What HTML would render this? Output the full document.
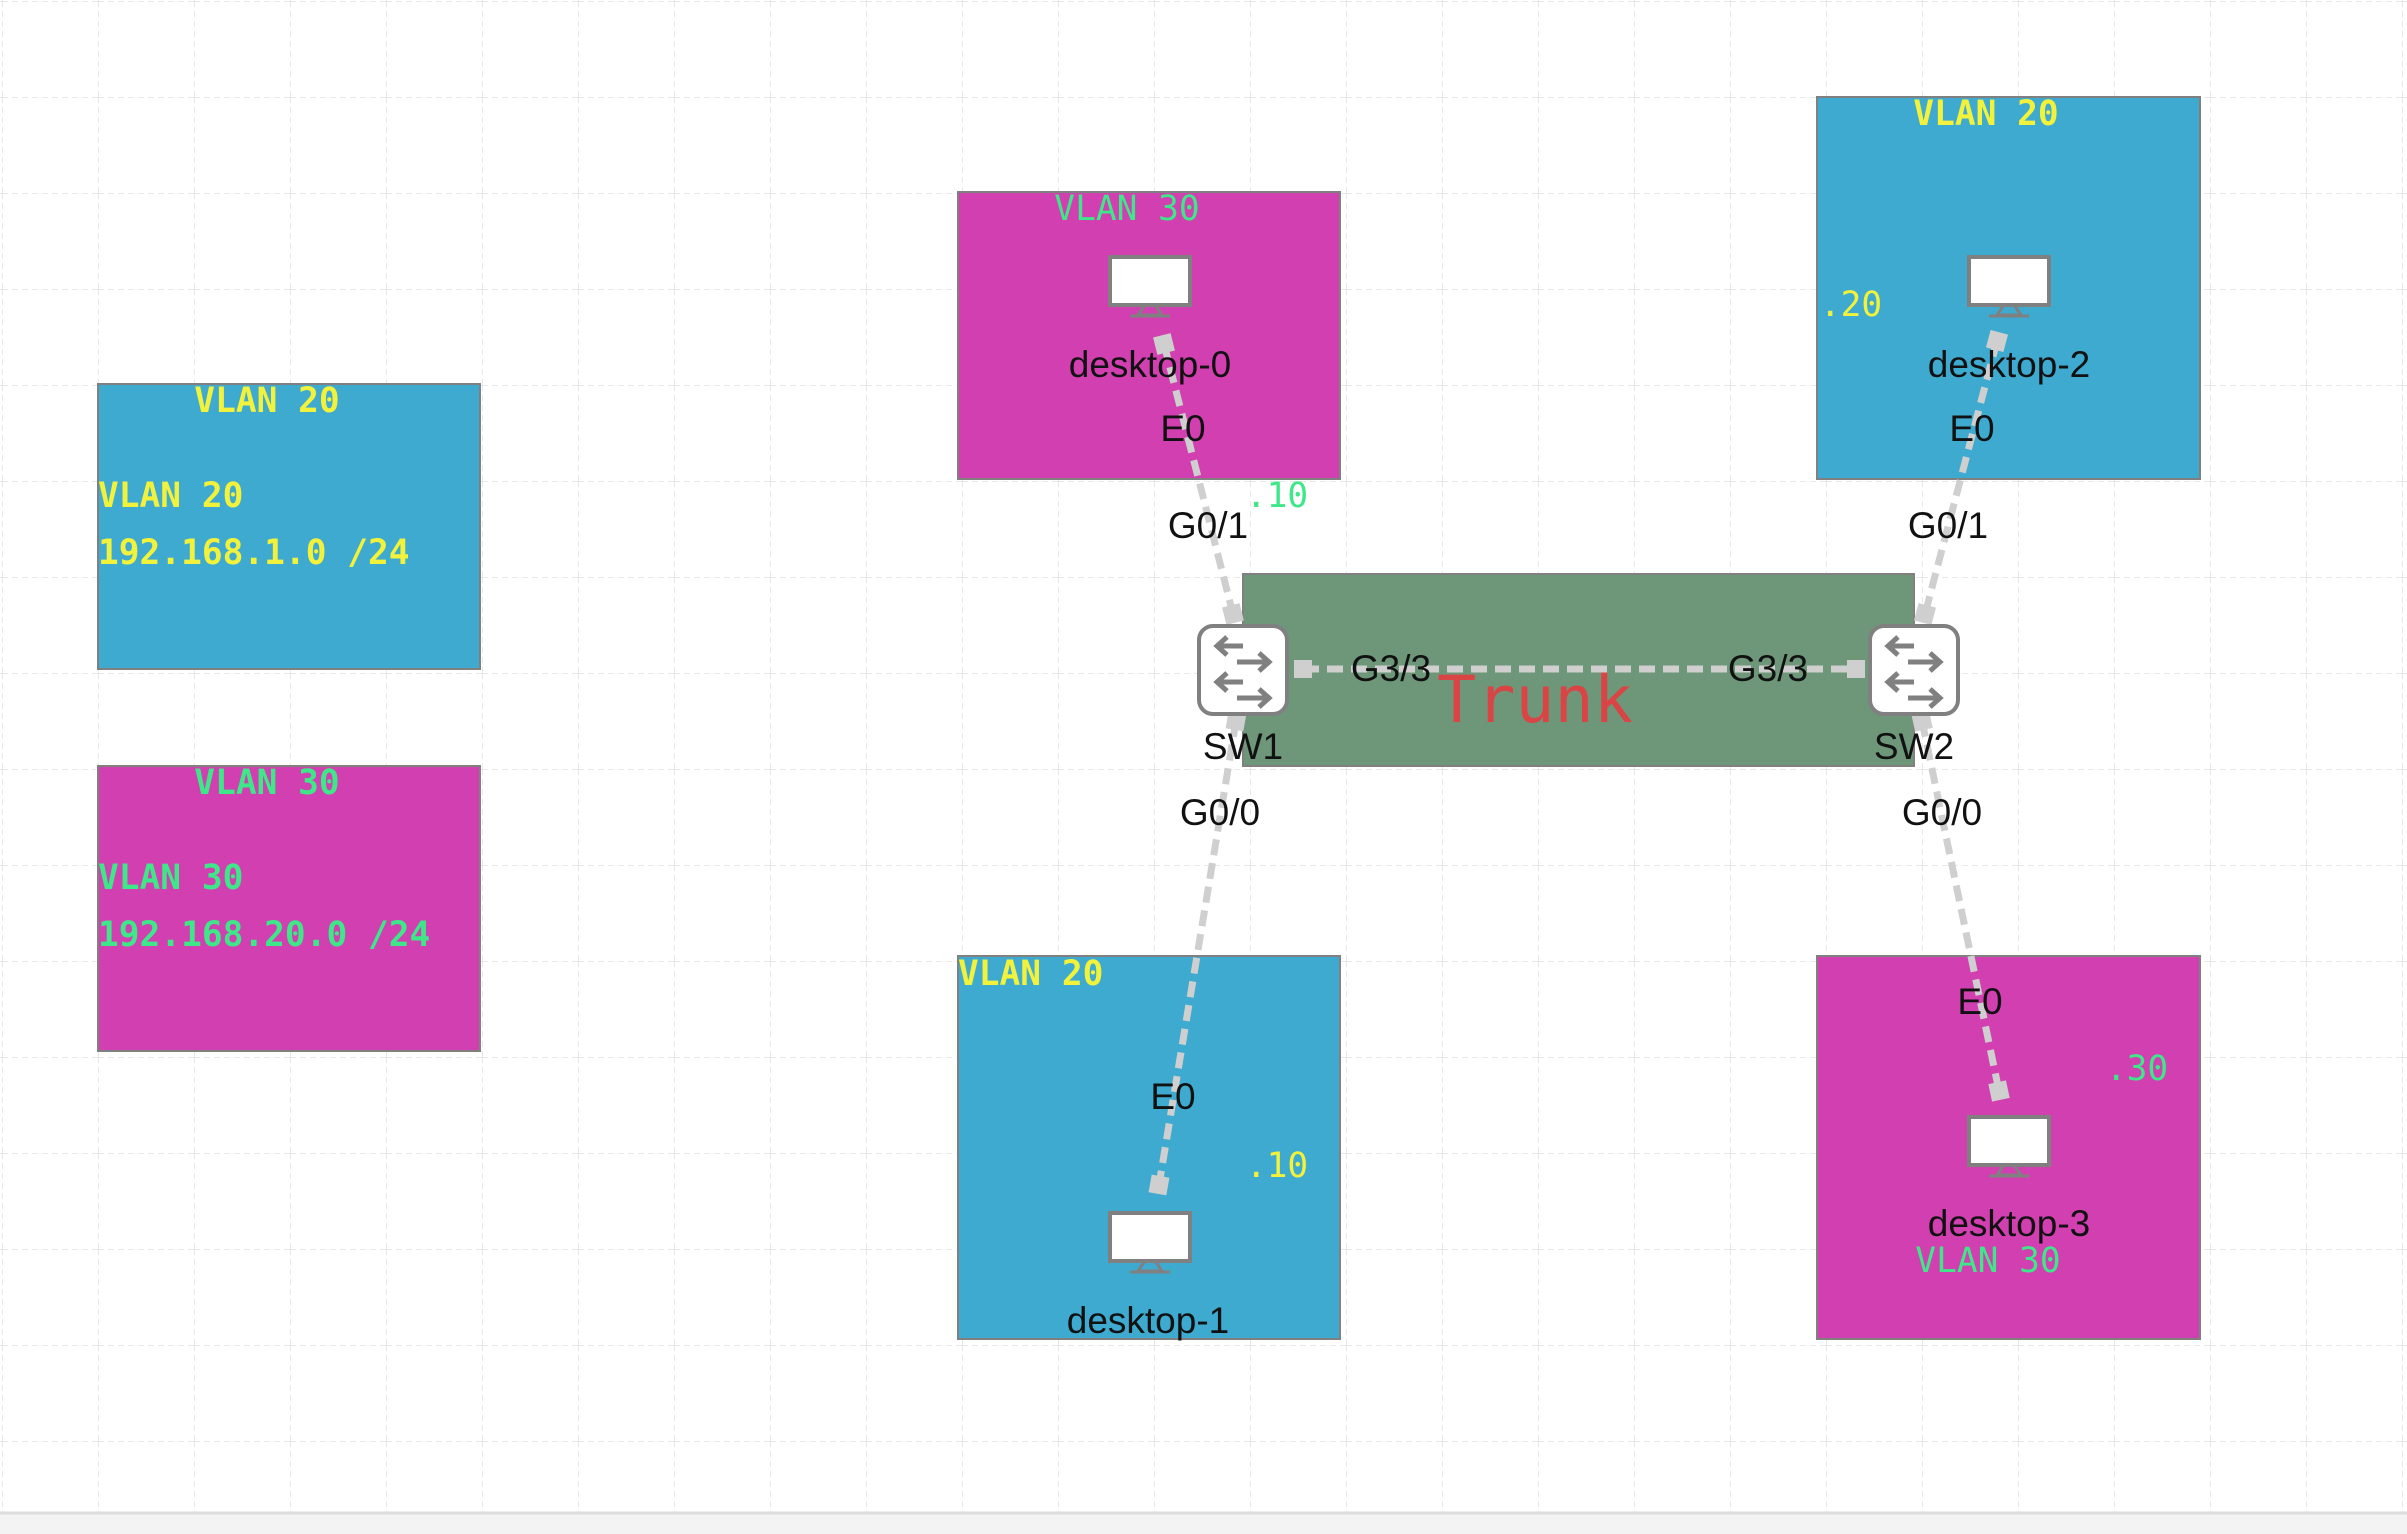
<!DOCTYPE html>
<html><head><meta charset="utf-8"><style>
html,body{margin:0;padding:0;background:#fff;}
svg{display:block;}
.m{font-family:"DejaVu Sans Mono","Liberation Mono",monospace;}
.s{font-family:"Liberation Sans",Arial,sans-serif;fill:#111;font-size:37px;}
</style></head><body>
<svg width="2407" height="1534" viewBox="0 0 2407 1534" xmlns="http://www.w3.org/2000/svg">
<defs>
<pattern id="g" x="2" y="1" width="96" height="96" patternUnits="userSpaceOnUse">
<path d="M0 0V96M0 0H96" stroke="#e0e0e0" stroke-width="1.5" stroke-dasharray="6 4" fill="none"/>
</pattern>
<g id="pc">
<rect x="-40" y="-25" width="80" height="48" fill="#fff" stroke="#808080" stroke-width="4"/>
<path d="M-12 33 L-5 23 H5 L12 33 Z" fill="none" stroke="#808080" stroke-width="3"/>
<line x1="-20" y1="34" x2="20" y2="34" stroke="#808080" stroke-width="3"/>
</g>
<g id="sw">
<rect x="-44" y="-44" width="88" height="88" rx="14" fill="#fff" stroke="#808080" stroke-width="4"/>
<g stroke="#808080" stroke-width="5" fill="none">
<path d="M-26 -24 H0 M-16 -33 L-26 -24 L-16 -15"/>
<path d="M-6 -8 H26 M16 -17 L26 -8 L16 1"/>
<path d="M-26 12 H0 M-16 3 L-26 12 L-16 21"/>
<path d="M-6 28 H26 M16 19 L26 28 L16 37"/>
</g>
</g>
</defs>
<rect width="2407" height="1534" fill="url(#g)"/>
<rect x="0" y="1512" width="2407" height="22" fill="#f3f3f3"/>
<line x1="0" y1="1513" x2="2407" y2="1513" stroke="#ddd" stroke-width="3"/>

<rect x="98" y="384" width="382" height="285" fill="#3eaad0" stroke="#808080" stroke-width="2"/>
<rect x="98" y="766" width="382" height="285" fill="#d13fb0" stroke="#808080" stroke-width="2"/>
<rect x="958" y="192" width="382" height="287" fill="#d13fb0" stroke="#808080" stroke-width="2"/>
<rect x="1817" y="97" width="383" height="382" fill="#3eaad0" stroke="#808080" stroke-width="2"/>
<rect x="958" y="956" width="382" height="383" fill="#3eaad0" stroke="#808080" stroke-width="2"/>
<rect x="1817" y="956" width="383" height="383" fill="#d13fb0" stroke="#808080" stroke-width="2"/>
<rect x="1243" y="574" width="671" height="192" fill="#6e977a" stroke="#808080" stroke-width="2"/>

<g class="m" font-weight="bold" font-size="34.5">
<text x="267" y="412" text-anchor="middle" fill="#f2f23c">VLAN 20</text>
<text x="98" y="507" fill="#f2f23c">VLAN 20</text>
<text x="98" y="564" fill="#f2f23c">192.168.1.0 /24</text>
<text x="267" y="794" text-anchor="middle" fill="#3ee888">VLAN 30</text>
<text x="98" y="889" fill="#3ee888">VLAN 30</text>
<text x="98" y="946" fill="#3ee888">192.168.20.0 /24</text>
</g>

<use href="#pc" x="1150" y="282"/>
<use href="#pc" x="2009" y="282"/>
<use href="#pc" x="1150" y="1238"/>
<use href="#pc" x="2009" y="1142"/>

<g stroke="#cfcfcf" stroke-width="7" stroke-dasharray="16 8" fill="none">
<line x1="1164" y1="344" x2="1233" y2="614"/>
<line x1="1997" y1="341" x2="1925" y2="614"/>
<line x1="1303" y1="669" x2="1856" y2="669"/>
<line x1="1236" y1="721" x2="1159" y2="1185"/>
<line x1="1922" y1="721" x2="1999" y2="1091"/>
</g>
<g fill="#cfcfcf">
<rect x="1155" y="335" width="18" height="18" transform="rotate(-14 1164 344)"/>
<rect x="1224" y="605" width="18" height="18" transform="rotate(-14 1233 614)"/>
<rect x="1988" y="332" width="18" height="18" transform="rotate(15 1997 341)"/>
<rect x="1916" y="605" width="18" height="18" transform="rotate(15 1925 614)"/>
<rect x="1294" y="660" width="18" height="18"/>
<rect x="1847" y="660" width="18" height="18"/>
<rect x="1227" y="712" width="18" height="18" transform="rotate(10 1236 721)"/>
<rect x="1150" y="1176" width="18" height="18" transform="rotate(10 1159 1185)"/>
<rect x="1913" y="712" width="18" height="18" transform="rotate(-12 1922 721)"/>
<rect x="1990" y="1082" width="18" height="18" transform="rotate(-12 1999 1091)"/>
</g>

<use href="#sw" x="1243" y="670"/>
<use href="#sw" x="1914" y="670"/>

<g class="m" font-size="34.5">
<text x="1127" y="220" text-anchor="middle" fill="#3ee888">VLAN 30</text>
<text x="1277" y="507" text-anchor="middle" fill="#3ee888">.10</text>
<text x="1986" y="125" text-anchor="middle" fill="#f2f23c" font-weight="bold">VLAN 20</text>
<text x="1851" y="316" text-anchor="middle" fill="#f2f23c">.20</text>
<text x="958" y="985" fill="#f2f23c" font-weight="bold">VLAN 20</text>
<text x="1277" y="1177" text-anchor="middle" fill="#f2f23c">.10</text>
<text x="2137" y="1080" text-anchor="middle" fill="#3ee888">.30</text>
<text x="1988" y="1272" text-anchor="middle" fill="#3ee888">VLAN 30</text>
<text x="1535" y="722" text-anchor="middle" fill="#d94545" font-size="65">Trunk</text>
</g>
<g class="s" text-anchor="middle">
<text x="1150" y="377">desktop-0</text>
<text x="2009" y="377">desktop-2</text>
<text x="1148" y="1333">desktop-1</text>
<text x="2009" y="1236">desktop-3</text>
<text x="1183" y="441">E0</text>
<text x="1972" y="441">E0</text>
<text x="1173" y="1109">E0</text>
<text x="1980" y="1014">E0</text>
<text x="1208" y="538">G0/1</text>
<text x="1948" y="538">G0/1</text>
<text x="1391" y="681">G3/3</text>
<text x="1768" y="681">G3/3</text>
<text x="1243" y="759">SW1</text>
<text x="1914" y="759">SW2</text>
<text x="1220" y="825">G0/0</text>
<text x="1942" y="825">G0/0</text>
</g>
</svg>
</body></html>
